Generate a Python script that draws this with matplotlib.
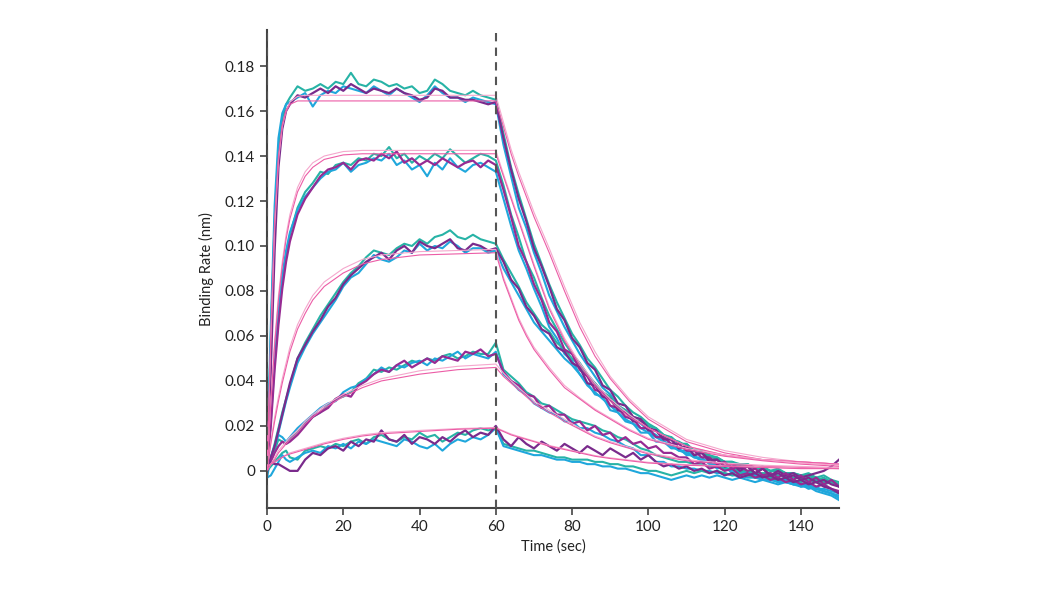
import matplotlib
matplotlib.use("Agg")
import matplotlib.pyplot as plt
import numpy as np

plt.rcParams['font.family'] = ['Lato', 'DejaVu Sans']

# sample times (sec) for the measured traces
time_on = [0, 1, 2, 3, 4, 5] + list(range(6, 61, 2))
time_off = list(range(62, 151, 2))

# measured traces, values in 1/1000 nm
# association phase (0-60 s)
l1_teal_on = [0, 60, 112, 143, 157, 163, 166, 171, 169, 170, 172, 170, 173, 172, 177, 172, 171, 174, 173, 171, 172, 170, 171, 168, 169, 174, 172, 169, 168, 167, 169, 167, 166, 165]
l1_cyan_on = [0, 65, 118, 148, 159, 163, 164, 166, 168, 162, 167, 169, 168, 171, 170, 169, 168, 171, 169, 167, 170, 168, 166, 164, 167, 171, 168, 166, 166, 164, 166, 165, 164, 163]
l1_purp_on = [0, 45, 98, 135, 152, 160, 163, 167, 166, 168, 170, 168, 171, 169, 172, 170, 168, 170, 169, 168, 170, 168, 167, 165, 166, 170, 169, 166, 166, 165, 165, 164, 163, 164]

l2_teal_on = [0, 22, 48, 68, 84, 96, 105, 117, 124, 128, 133, 132, 136, 137, 136, 139, 138, 141, 140, 144, 139, 141, 137, 140, 138, 141, 139, 143, 140, 137, 139, 141, 140, 138]
l2_cyan_on = [0, 25, 52, 72, 87, 98, 106, 116, 122, 126, 130, 133, 134, 137, 133, 136, 137, 139, 138, 141, 136, 138, 134, 136, 131, 137, 134, 139, 135, 133, 136, 137, 135, 133]
l2_purp_on = [0, 20, 45, 65, 81, 93, 102, 114, 121, 126, 131, 134, 135, 137, 134, 138, 139, 138, 141, 139, 142, 137, 139, 136, 138, 136, 139, 137, 135, 137, 138, 135, 138, 136]

l3_teal_on = [0, 6, 12, 19, 26, 32, 38, 50, 57, 63, 69, 74, 79, 84, 88, 91, 95, 98, 97, 96, 99, 101, 100, 103, 101, 104, 105, 107, 104, 103, 105, 103, 102, 101]
l3_cyan_on = [0, 5, 10, 17, 24, 31, 37, 48, 55, 61, 66, 71, 76, 82, 86, 88, 92, 96, 94, 93, 95, 98, 97, 101, 98, 100, 99, 102, 100, 97, 99, 99, 97, 98]
l3_purp_on = [0, 6, 11, 18, 25, 32, 39, 50, 56, 62, 67, 73, 77, 83, 87, 90, 93, 95, 97, 94, 98, 100, 97, 102, 100, 99, 101, 103, 99, 98, 101, 100, 98, 99]

l4_teal_on = [0, 5, 9, 14, 13, 12, 14, 17, 21, 24, 26, 29, 32, 33, 35, 39, 41, 45, 44, 46, 45, 47, 49, 48, 50, 49, 51, 52, 50, 51, 53, 52, 52, 57]
l4_cyan_on = [-3, 6, 11, 16, 15, 13, 15, 19, 22, 25, 28, 30, 31, 35, 37, 38, 41, 43, 46, 44, 47, 46, 48, 49, 47, 50, 49, 51, 53, 50, 52, 51, 50, 53]
l4_purp_on = [2, 4, 8, 11, 13, 12, 13, 16, 20, 24, 26, 28, 32, 34, 33, 38, 40, 43, 45, 44, 47, 49, 46, 48, 50, 48, 51, 50, 49, 53, 52, 54, 51, 52]

l5_teal_on = [0, 2, 4, 6, 8, 9, 6, 5, 9, 10, 11, 10, 12, 11, 13, 14, 12, 15, 16, 14, 13, 15, 14, 17, 15, 16, 13, 15, 17, 16, 18, 19, 18, 19]
l5_cyan_on = [-3, -2, 1, 4, 7, 5, 4, 6, 8, 9, 8, 11, 10, 12, 10, 13, 12, 14, 13, 12, 11, 14, 13, 11, 10, 12, 9, 12, 14, 13, 15, 14, 16, 19]
l5_purp_on = [2, 4, 3, 3, 2, 1, 0, 0, 5, 8, 7, 10, 11, 9, 13, 11, 14, 13, 18, 14, 13, 16, 12, 15, 14, 12, 15, 13, 16, 18, 15, 17, 16, 20]

# dissociation phase (62-150 s)
l1_teal_off = [150, 135, 123, 112, 101, 92, 83, 75, 68, 61, 56, 50, 46, 41, 36, 33, 29, 26, 24, 21, 19, 16, 14, 13, 11, 9, 8, 7, 5, 4, 4, 2, 3, 1, 1, 0, 1, -1, -1, -2, -1, -3, -2, -4, -5]
l1_cyan_off = [145, 131, 117, 108, 97, 88, 78, 71, 64, 58, 52, 47, 42, 37, 34, 29, 27, 23, 21, 18, 16, 13, 12, 9, 9, 6, 6, 3, 3, 1, 1, -1, 0, -2, -2, -3, -4, -5, -5, -7, -7, -9, -10, -11, -13]
l1_purp_off = [148, 134, 121, 111, 99, 91, 82, 72, 67, 59, 55, 48, 45, 38, 36, 30, 29, 24, 23, 19, 18, 14, 14, 10, 11, 7, 8, 4, 5, 2, 3, 0, 2, -1, 1, -2, 0, -2, -1, -3, -2, -1, 0, 2, 5]

l2_teal_off = [127, 114, 104, 93, 86, 77, 69, 63, 57, 52, 48, 43, 39, 35, 32, 28, 27, 23, 22, 19, 18, 15, 15, 12, 12, 9, 9, 6, 6, 4, 4, 2, 3, 1, 1, 0, 0, -1, -1, -3, -2, -4, -3, -5, -6]
l2_cyan_off = [121, 109, 98, 90, 81, 73, 64, 59, 52, 49, 43, 39, 34, 33, 27, 26, 22, 21, 17, 17, 13, 13, 10, 10, 7, 7, 4, 4, 1, 2, -1, 0, -2, -1, -4, -3, -5, -4, -6, -6, -8, -7, -9, -10, -12]
l2_purp_off = [125, 113, 100, 93, 83, 76, 66, 62, 54, 52, 45, 42, 36, 35, 29, 28, 24, 23, 19, 19, 15, 15, 12, 12, 9, 9, 6, 6, 3, 4, 1, 2, 0, 1, -2, -1, -3, -1, -4, -2, -5, -3, -6, -4, -7]

l3_teal_off = [94, 88, 82, 75, 70, 65, 62, 57, 54, 50, 47, 42, 39, 35, 33, 29, 27, 24, 23, 20, 19, 16, 15, 12, 12, 9, 9, 7, 6, 4, 4, 3, 3, 1, 2, 0, 0, -1, -1, -2, -2, -3, -4, -5, -6]
l3_cyan_off = [90, 84, 78, 72, 66, 62, 58, 54, 50, 47, 43, 38, 35, 32, 29, 26, 23, 21, 19, 17, 15, 13, 11, 9, 8, 6, 5, 4, 2, 1, 0, 0, -1, -2, -2, -3, -4, -4, -5, -6, -6, -8, -9, -10, -12]
l3_purp_off = [93, 85, 81, 73, 69, 63, 61, 55, 53, 48, 46, 39, 38, 33, 32, 27, 26, 22, 22, 18, 18, 14, 14, 10, 11, 7, 8, 5, 5, 2, 3, 1, 2, -1, 1, -2, -1, -3, -2, -4, -3, -5, -4, -6, -7]

l4_teal_off = [45, 42, 39, 35, 33, 30, 29, 27, 25, 23, 22, 21, 20, 18, 17, 15, 14, 12, 10, 9, 7, 6, 5, 4, 4, 3, 3, 2, 2, 1, 1, 0, 0, -1, -1, -1, -2, -2, -3, -3, -4, -4, -5, -5, -6]
l4_cyan_off = [43, 40, 36, 34, 30, 28, 26, 25, 22, 22, 19, 19, 17, 16, 14, 13, 11, 10, 7, 7, 4, 4, 2, 2, 1, 1, 0, 0, -1, -1, -2, -2, -3, -3, -4, -4, -5, -5, -6, -6, -7, -8, -8, -9, -10]
l4_purp_off = [44, 40, 38, 34, 33, 28, 29, 25, 25, 21, 22, 18, 20, 16, 17, 13, 15, 12, 13, 10, 11, 8, 8, 6, 6, 3, 4, 1, 2, 0, 1, -2, -1, -3, -2, -4, -3, -5, -4, -6, -5, -7, -6, -8, -9]

l5_teal_off = [12, 11, 10, 9, 9, 8, 7, 6, 6, 5, 5, 5, 4, 4, 3, 3, 2, 2, 1, 0, 0, -1, -2, -1, 0, -1, 0, -1, 0, -1, -2, -1, -2, -3, -2, -3, -4, -3, -4, -5, -4, -5, -6, -5, -6]
l5_cyan_off = [11, 10, 9, 8, 7, 7, 6, 5, 5, 4, 4, 3, 3, 2, 2, 1, 1, 0, -1, -1, -2, -3, -4, -3, -2, -3, -2, -3, -2, -3, -4, -3, -4, -5, -4, -5, -6, -5, -6, -7, -6, -8, -9, -10, -11]
l5_purp_off = [14, 11, 15, 12, 10, 13, 11, 9, 12, 10, 8, 11, 9, 7, 10, 8, 6, 8, 5, 7, 4, 2, 3, 1, 2, 0, 1, -1, 0, -2, -1, -3, -2, -1, -3, -2, -4, -3, -5, -4, -6, -5, -7, -8, -10]

# fitted curves (two per concentration), 1/1000 nm
fit_time = [0, 1, 2, 3, 4, 5, 6, 8, 10, 12, 15, 20, 25, 30, 40, 50, 60,
            62, 64, 66, 68, 70, 74, 78, 82, 86, 90, 95, 100, 110, 120, 130, 140, 150]
fit1_a = [0, 62, 112, 140, 154, 160, 163, 164.5, 164.5, 164.5, 164.5, 164.5, 164.5, 164.5, 164.5, 164.5, 164.5,
          153, 141, 131, 122, 113, 97, 80, 64, 51, 41, 31, 23, 13, 8, 5, 4, 3]
fit1_b = [0, 58, 108, 138, 153, 160, 164, 166.5, 167, 167, 167, 167, 167, 167, 167, 167, 167,
          155, 143, 133, 124, 115, 99, 82, 66, 53, 42, 32, 24, 14, 9, 6, 4, 3]
fit2_a = [0, 30, 56, 76, 91, 103, 112, 124, 131, 135, 138.5, 140.5, 141, 141, 141, 141, 141,
          131, 121, 111, 101, 91, 72, 58, 47, 38, 31, 24, 19, 11, 7, 5, 4, 3]
fit2_b = [0, 31, 58, 78, 93, 105, 114, 126, 133, 137, 140, 142, 142.5, 142.5, 142.5, 142.5, 142.5,
          132, 122, 112, 102, 92, 73, 59, 48, 39, 32, 25, 19, 11, 7, 5, 4, 3]
fit3_a = [0, 12, 22, 31, 39, 46, 53, 63, 70, 76, 82, 88, 92, 94, 96, 96.5, 97,
          85, 76, 67, 60, 54, 45, 37, 32, 27, 23, 18, 14, 9.5, 6.5, 4.5, 3, 2]
fit3_b = [0, 13, 24, 33, 41, 48, 55, 65, 72, 78, 84, 90, 94, 96, 97.5, 98, 98.5,
          86, 77, 68, 61, 55, 46, 38, 32.5, 27.5, 23.5, 18.5, 14.5, 10, 7, 5, 3.5, 2.5]
fit4_a = [0, 3, 5, 8, 10, 12, 14, 17, 21, 24, 28, 33, 37, 40, 43, 45, 46,
          42, 39, 36, 33, 30, 26, 22, 18.5, 15, 12.5, 10, 7.5, 4.5, 3, 2, 1.5, 1]
fit4_b = [0, 3, 6, 9, 11, 13, 15, 18, 22, 25, 29, 34, 38, 41, 44.5, 46.5, 47.5,
          43.5, 40, 37, 34, 31, 27, 23, 19, 15.5, 13, 10.5, 8, 5, 3.5, 2.5, 2, 1.5]
fit5_a = [2, 3, 4, 5, 6, 7, 7.5, 8.5, 9.5, 10.5, 12, 14, 15.5, 16.5, 17.5, 18.5, 19,
          17.5, 16, 15, 14, 13, 11, 9.5, 8, 6.5, 5.5, 4.5, 3.5, 2.5, 2, 1.5, 1, 1]
fit5_b = [2, 3, 4, 5, 6, 7, 8, 9, 10, 11, 12.5, 14.5, 16, 17, 18, 18.8, 19.3,
          17.8, 16.4, 15.3, 14.3, 13.3, 11.3, 9.8, 8.3, 6.8, 5.8, 4.8, 3.8, 2.8, 2.2, 1.7, 1.2, 1.1]

yticks = [0, 0.02, 0.04, 0.06, 0.08, 0.10, 0.12, 0.14, 0.16, 0.18]
ytick_labels = ["0", "0.02", "0.04", "0.06", "0.08", "0.10", "0.12", "0.14", "0.16", "0.18"]
xticks = [0, 20, 40, 60, 80, 100, 120, 140]

TEAL = "#27b3a6"
CYAN = "#1fa7dc"
PURPLE = "#7a2b8c"
MAGENTA = "#972b93"
PINK = "#ec5ca6"
LIGHT_PINK = "#f5a7cd"

fig = plt.figure(figsize=(10.5, 5.9), dpi=100)
ax = fig.add_axes([0.2543, 0.139, 0.5448, 0.810])

t_all = np.array(time_on + time_off)
traces = [
    (l1_teal_on, l1_teal_off, l1_cyan_on, l1_cyan_off, l1_purp_on, l1_purp_off, PURPLE),
    (l2_teal_on, l2_teal_off, l2_cyan_on, l2_cyan_off, l2_purp_on, l2_purp_off, MAGENTA),
    (l3_teal_on, l3_teal_off, l3_cyan_on, l3_cyan_off, l3_purp_on, l3_purp_off, PURPLE),
    (l4_teal_on, l4_teal_off, l4_cyan_on, l4_cyan_off, l4_purp_on, l4_purp_off, MAGENTA),
    (l5_teal_on, l5_teal_off, l5_cyan_on, l5_cyan_off, l5_purp_on, l5_purp_off, PURPLE),
]
for tn, tf, cn, cf, pn, pf, pc in traces:
    ax.plot(t_all, np.array(tn + tf) / 1000, color=TEAL, lw=1.5, zorder=2)
    ax.plot(t_all, np.array(cn + cf) / 1000, color=CYAN, lw=1.5, zorder=2)
    ax.plot(t_all, np.array(pn + pf) / 1000, color=pc, lw=1.6, zorder=3)

for fa, fb in [(fit1_a, fit1_b), (fit2_a, fit2_b), (fit3_a, fit3_b), (fit4_a, fit4_b), (fit5_a, fit5_b)]:
    ax.plot(fit_time, np.array(fb) / 1000, color=LIGHT_PINK, lw=0.8, zorder=4)
    ax.plot(fit_time, np.array(fa) / 1000, color=PINK, lw=0.8, zorder=4)

# injection / dissociation markers
for xv in [0, 60]:
    ax.axvline(xv, color="#555555", lw=1.5, ls=(0, (4, 3)), zorder=5)

ax.set_xlim(0, 150)
ax.set_ylim(-0.0165, 0.196)
ax.set_yticks(yticks)
ax.set_yticklabels(ytick_labels)
ax.set_xticks(xticks)

for s in ["top", "right"]:
    ax.spines[s].set_visible(False)
for s in ["left", "bottom"]:
    ax.spines[s].set_color("#444444")
    ax.spines[s].set_linewidth(1.5)
ax.tick_params(axis="both", colors="#222222", labelsize=11, length=5, width=1.2)
ax.tick_params(axis="both", color="#444444")

ax.set_xlabel("Time (sec)", fontsize=10.5, color="#222222", labelpad=4)
ax.set_ylabel("Binding Rate (nm)", fontsize=10.5, color="#222222", labelpad=8)

fig.savefig("out.png", dpi=100, facecolor="white")
